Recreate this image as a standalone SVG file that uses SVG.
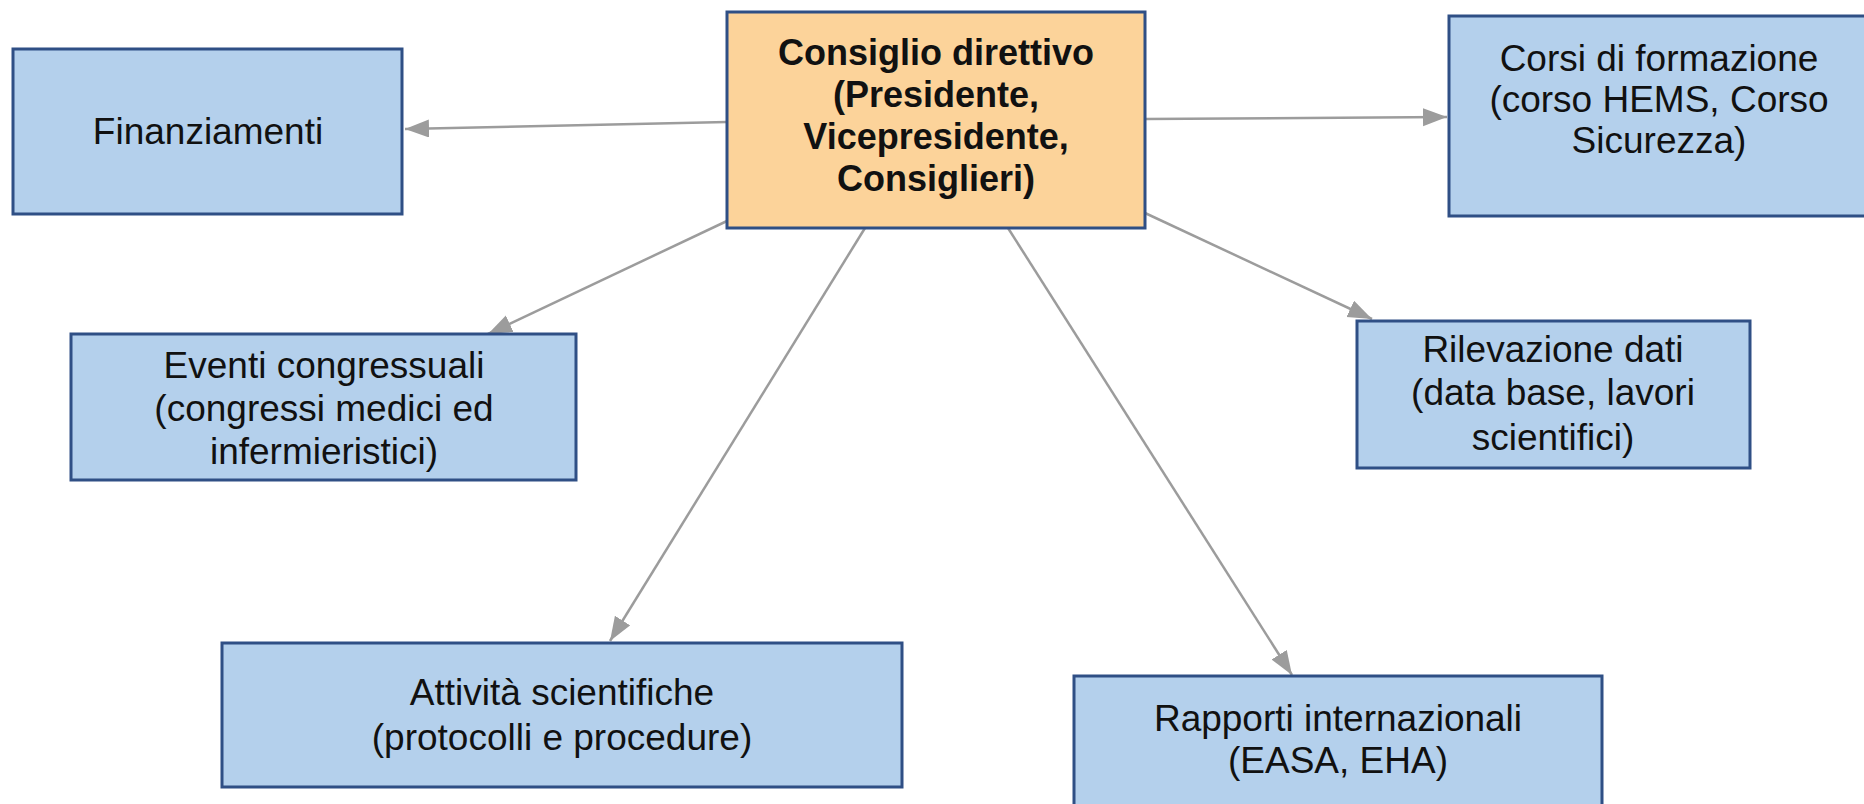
<svg xmlns="http://www.w3.org/2000/svg" width="1864" height="804" viewBox="0 0 1864 804">
<defs>
<style>
.bg{fill:#ffffff}
.box{fill:#b4d0ec;stroke:#2f4f85;stroke-width:3}
.main{fill:#fcd39a;stroke:#2f4f85;stroke-width:3}
.t{font-family:"Liberation Sans",Arial,sans-serif;font-size:37px;fill:#111;text-anchor:middle}
.tb{font-family:"Liberation Sans",Arial,sans-serif;font-size:36px;font-weight:bold;fill:#111;text-anchor:middle}
.c{stroke:#9c9c9c;stroke-width:2.5;fill:none;marker-end:url(#ah)}
</style>
<marker id="ah" markerUnits="userSpaceOnUse" markerWidth="26" markerHeight="20" refX="24" refY="9" orient="auto">
<path d="M0,0 L24,9 L0,18 z" fill="#9c9c9c"/>
</marker>
</defs>
<rect class="bg" x="0" y="0" width="1864" height="804"/>
<g id="connectors">
<line class="c" x1="727" y1="122" x2="405" y2="129"/>
<line class="c" x1="1145" y1="119" x2="1447" y2="117"/>
<line class="c" x1="727" y1="221" x2="488" y2="334"/>
<line class="c" x1="865" y1="228" x2="610" y2="641"/>
<line class="c" x1="1008" y1="228" x2="1292" y2="675"/>
<line class="c" x1="1145" y1="213" x2="1372" y2="319"/>
</g>
<g id="finanziamenti">
<rect class="box" x="13" y="49" width="389" height="165"/>
<text class="t" x="208" y="144">Finanziamenti</text>
</g>
<g id="consiglio">
<rect class="main" x="727" y="12" width="418" height="216"/>
<text class="tb" x="936" y="65">Consiglio direttivo</text>
<text class="tb" x="936" y="107">(Presidente,</text>
<text class="tb" x="936" y="149">Vicepresidente,</text>
<text class="tb" x="936" y="191">Consiglieri)</text>
</g>
<g id="corsi">
<rect class="box" x="1449" y="16" width="430" height="200"/>
<text class="t" x="1659" y="71">Corsi di formazione</text>
<text class="t" x="1659" y="112">(corso HEMS, Corso</text>
<text class="t" x="1659" y="153">Sicurezza)</text>
</g>
<g id="eventi">
<rect class="box" x="71" y="334" width="505" height="146"/>
<text class="t" x="324" y="378">Eventi congressuali</text>
<text class="t" x="324" y="421">(congressi medici ed</text>
<text class="t" x="324" y="464">infermieristici)</text>
</g>
<g id="rilevazione">
<rect class="box" x="1357" y="321" width="393" height="147"/>
<text class="t" x="1553" y="362">Rilevazione dati</text>
<text class="t" x="1553" y="405">(data base, lavori</text>
<text class="t" x="1553" y="450">scientifici)</text>
</g>
<g id="attivita">
<rect class="box" x="222" y="643" width="680" height="144"/>
<text class="t" x="562" y="705">Attività scientifiche</text>
<text class="t" x="562" y="750">(protocolli e procedure)</text>
</g>
<g id="rapporti">
<rect class="box" x="1074" y="676" width="528" height="140"/>
<text class="t" x="1338" y="731">Rapporti internazionali</text>
<text class="t" x="1338" y="773">(EASA, EHA)</text>
</g>
</svg>
